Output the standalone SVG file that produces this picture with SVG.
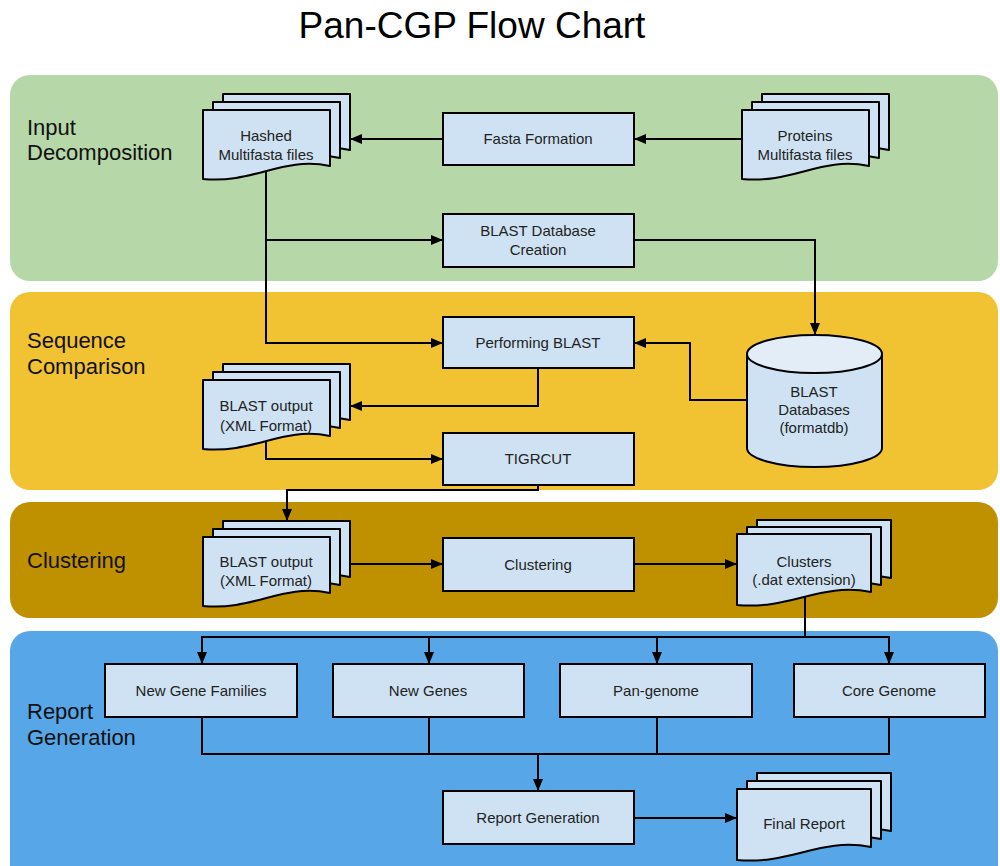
<svg xmlns="http://www.w3.org/2000/svg" width="1000" height="866" viewBox="0 0 1000 866">
  <style>
    .title { font-family: "Liberation Sans", Arial, sans-serif; font-size: 37px; fill: #000; text-anchor: middle; }
    .lane { font-family: "Liberation Sans", Arial, sans-serif; font-size: 22px; fill: #111; }
    .box { fill: #cfe2f3; stroke: #000; stroke-width: 2; }
    .doc { fill: #cfe2f3; stroke: #000; stroke-width: 2; stroke-linejoin: round; }
    .lbl { font-family: "Liberation Sans", Arial, sans-serif; font-size: 15px; fill: #222; text-anchor: middle; }
    .wire { fill: none; stroke: #000; stroke-width: 2; }
    .arrow { marker-end: url(#head); }
  </style>
  <defs>
    <marker id="head" viewBox="0 0 12 10" markerUnits="userSpaceOnUse" markerWidth="12" markerHeight="10" refX="12" refY="5" orient="auto">
      <path d="M0,0 L12,5 L0,10 z" fill="#000"/>
    </marker>
    <!-- document page with wavy bottom edge, 127 x 70 -->
    <path id="page" d="M0,0 H127 V56 C79,46 51,74 0,69 Z"/>
    <!-- wider page for cluster and report outputs, 134 x 72 -->
    <path id="pageW" d="M0,0 H134 V58 C83,48 54,76 0,71 Z"/>
  </defs>

  <rect width="1000" height="866" fill="#fff"/>
  <text class="title" x="472" y="38">Pan-CGP Flow Chart</text>

  <!-- swimlanes -->
  <g id="lanes">
    <rect x="10" y="75" width="988" height="206" rx="20" fill="#b6d7a8"/>
    <rect x="10" y="292" width="988" height="198" rx="20" fill="#f1c232"/>
    <rect x="10" y="502" width="988" height="116" rx="20" fill="#bf9000"/>
    <rect x="10" y="631" width="988" height="260" rx="20" fill="#56a6e8"/>
    <text class="lane" x="27" y="135">Input</text>
    <text class="lane" x="27" y="160">Decomposition</text>
    <text class="lane" x="27" y="348">Sequence</text>
    <text class="lane" x="27" y="374">Comparison</text>
    <text class="lane" x="27" y="568">Clustering</text>
    <text class="lane" x="27" y="719">Report</text>
    <text class="lane" x="27" y="745">Generation</text>
  </g>

  <!-- connectors -->
  <g id="connectors">
    <path class="wire arrow" d="M443,139 H350"/>
    <path class="wire arrow" d="M742,139 H634"/>
    <path class="wire arrow" d="M266,172 V343 H443"/>
    <path class="wire arrow" d="M266,240 H443"/>
    <path class="wire arrow" d="M634,240 H815 V335"/>
    <path class="wire arrow" d="M747,400 H690 V343 H634"/>
    <path class="wire arrow" d="M538,368 V406 H350"/>
    <path class="wire arrow" d="M266,442 V459 H443"/>
    <path class="wire arrow" d="M538,485 V490 H287 V521"/>
    <path class="wire arrow" d="M350,564 H443"/>
    <path class="wire arrow" d="M634,564 H737"/>
    <path class="wire arrow" d="M805,597 V637 H202 V664"/>
    <path class="wire arrow" d="M805,637 H889 V664"/>
    <path class="wire arrow" d="M429,637 V664"/>
    <path class="wire arrow" d="M657,637 V664"/>
    <path class="wire" d="M202,717 V754 H889 V717"/>
    <path class="wire" d="M429,717 V754"/>
    <path class="wire" d="M657,717 V754"/>
    <path class="wire arrow" d="M538,754 V791"/>
    <path class="wire arrow" d="M634,818 H737"/>
  </g>

  <!-- input decomposition -->
  <g id="hashed-files">
    <use href="#page" class="doc" x="223" y="94"/>
    <use href="#page" class="doc" x="213" y="102"/>
    <use href="#page" class="doc" x="203" y="110"/>
    <text class="lbl" x="266" y="141">Hashed</text>
    <text class="lbl" x="266" y="160">Multifasta files</text>
  </g>
  <g id="fasta-formation">
    <rect class="box" x="443" y="113" width="191" height="52"/>
    <text class="lbl" x="538" y="144">Fasta Formation</text>
  </g>
  <g id="protein-files">
    <use href="#page" class="doc" x="762" y="94"/>
    <use href="#page" class="doc" x="752" y="102"/>
    <use href="#page" class="doc" x="742" y="110"/>
    <text class="lbl" x="805" y="141">Proteins</text>
    <text class="lbl" x="805" y="160">Multifasta files</text>
  </g>
  <g id="blast-db-creation">
    <rect class="box" x="443" y="214" width="191" height="53"/>
    <text class="lbl" x="538" y="236">BLAST Database</text>
    <text class="lbl" x="538" y="255">Creation</text>
  </g>

  <!-- sequence comparison -->
  <g id="performing-blast">
    <rect class="box" x="443" y="317" width="191" height="51"/>
    <text class="lbl" x="538" y="348">Performing BLAST</text>
  </g>
  <g id="blast-databases">
    <path class="doc" d="M747,354 V448 A67.5,19 0 0 0 882,448 V354"/>
    <ellipse class="doc" cx="814.5" cy="354" rx="67.5" ry="19" fill="#e2edf8" style="fill:#e2edf8"/>
    <text class="lbl" x="814" y="397">BLAST</text>
    <text class="lbl" x="814" y="415">Databases</text>
    <text class="lbl" x="814" y="433">(formatdb)</text>
  </g>
  <g id="blast-output-xml">
    <use href="#page" class="doc" x="223" y="364"/>
    <use href="#page" class="doc" x="213" y="372"/>
    <use href="#page" class="doc" x="203" y="380"/>
    <text class="lbl" x="266" y="411">BLAST output</text>
    <text class="lbl" x="266" y="431">(XML Format)</text>
  </g>
  <g id="tigrcut">
    <rect class="box" x="443" y="433" width="191" height="52"/>
    <text class="lbl" x="538" y="464">TIGRCUT</text>
  </g>

  <!-- clustering -->
  <g id="filtered-blast-output">
    <use href="#page" class="doc" x="223" y="521"/>
    <use href="#page" class="doc" x="213" y="529"/>
    <use href="#page" class="doc" x="203" y="537"/>
    <text class="lbl" x="266" y="567">BLAST output</text>
    <text class="lbl" x="266" y="586">(XML Format)</text>
  </g>
  <g id="clustering">
    <rect class="box" x="443" y="538" width="191" height="53"/>
    <text class="lbl" x="538" y="570">Clustering</text>
  </g>
  <g id="clusters">
    <use href="#pageW" class="doc" x="757" y="520"/>
    <use href="#pageW" class="doc" x="747" y="527"/>
    <use href="#pageW" class="doc" x="737" y="534"/>
    <text class="lbl" x="804" y="567">Clusters</text>
    <text class="lbl" x="804" y="585">(.dat extension)</text>
  </g>

  <!-- report generation -->
  <g id="new-gene-families">
    <rect class="box" x="105" y="664" width="192" height="53"/>
    <text class="lbl" x="201" y="696">New Gene Families</text>
  </g>
  <g id="new-genes">
    <rect class="box" x="333" y="664" width="191" height="53"/>
    <text class="lbl" x="428" y="696">New Genes</text>
  </g>
  <g id="pan-genome">
    <rect class="box" x="560" y="664" width="192" height="53"/>
    <text class="lbl" x="656" y="696">Pan-genome</text>
  </g>
  <g id="core-genome">
    <rect class="box" x="794" y="664" width="191" height="53"/>
    <text class="lbl" x="889" y="696">Core Genome</text>
  </g>
  <g id="report-generation">
    <rect class="box" x="443" y="791" width="191" height="53"/>
    <text class="lbl" x="538" y="823">Report Generation</text>
  </g>
  <g id="final-report">
    <use href="#pageW" class="doc" x="757" y="773"/>
    <use href="#pageW" class="doc" x="747" y="781"/>
    <use href="#pageW" class="doc" x="737" y="789"/>
    <text class="lbl" x="804" y="829">Final Report</text>
  </g>
</svg>
